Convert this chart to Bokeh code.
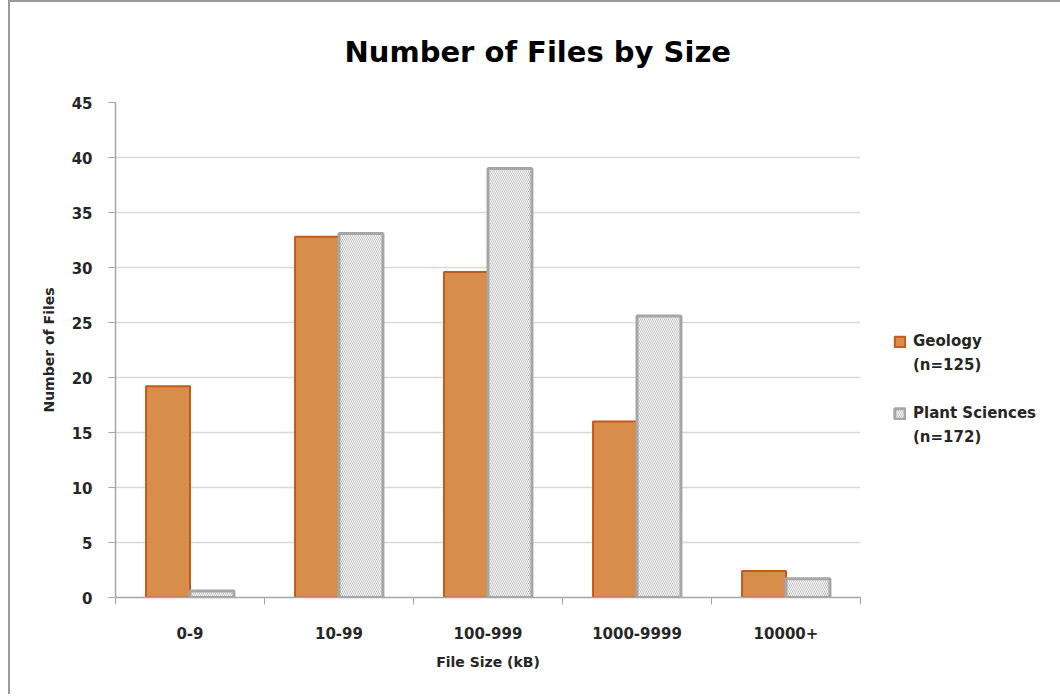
from bokeh.plotting import figure
from bokeh.models import (ColumnDataSource, Range1d, FixedTicker, SingleIntervalTicker,
                          Legend, LegendItem)
from bokeh.embed import file_html
from bokeh.resources import INLINE

categories = ["0-9", "10-99", "100-999", "1000-9999", "10000+"]
geology = [19.2, 32.8, 29.6, 16.0, 2.4]
plant = [0.6, 33.1, 39.0, 25.6, 1.7]
series_names = ["Geology", "Plant Sciences"]
series_counts = ["(n=125)", "(n=172)"]
title_text = "Number of Files by Size"
x_title = "File Size (kB)"
y_title = "Number of Files"
y_max = 45
y_step = 5

FONT = "DejaVu Sans"
BAR_W = 0.295

centers = [i + 0.5 for i in range(len(categories))]
src = ColumnDataSource(dict(
    cat=categories,
    xg=[c - BAR_W / 2 for c in centers],
    xp=[c + BAR_W / 2 for c in centers],
    geology=geology,
    plant=plant,
))

p = figure(width=1045, height=692, output_backend="svg", toolbar_location=None,
           x_range=Range1d(0, len(categories)), y_range=Range1d(0, y_max),
           frame_width=745, frame_height=495,
           min_border_left=105, min_border_top=100, min_border_right=195, min_border_bottom=97,
           title=title_text)
p.styles = {"border-left": "2px solid #9a9a9a", "border-top": "2px solid #9a9a9a",
            "margin-left": "8px", "margin-top": "0px"}
p.outline_line_color = None
p.background_fill_color = "white"
p.border_fill_color = "white"

p.title.text_font = FONT
p.title.text_font_size = "29px"
p.title.text_font_style = "bold"
p.title.text_color = "#000000"
p.title.align = "left"
p.title.offset = 229
p.title.vertical_align = "top"
p.title.text_line_height = 1.0
p.title.standoff = 63

rg = p.vbar(x="xg", top="geology", width=BAR_W, source=src,
            fill_color="#D98D4B", line_color="#C4591C", line_width=2)
rp = p.vbar(x="xp", top="plant", width=BAR_W, source=src,
            fill_color="#FAFAFA", line_color="#A6A6A6", line_width=3,
            hatch_pattern="\\", hatch_color="#C4C4C4", hatch_scale=4, hatch_weight=1)

# invisible renderer for the extra legend lines
blank = p.vbar(x=[], top=[], width=BAR_W, fill_alpha=0, line_alpha=0)

# axes
p.xaxis.ticker = FixedTicker(ticks=centers, minor_ticks=list(range(len(categories) + 1)))
p.xaxis.major_label_overrides = {c: lab for c, lab in zip(centers, categories)}
p.xaxis.major_tick_line_color = None
p.xaxis.minor_tick_line_color = "#A6A6A6"
p.xaxis.minor_tick_out = 7
p.xaxis.minor_tick_in = 0
p.xaxis.axis_line_color = "#A6A6A6"
p.xaxis.axis_line_width = 1.5
p.xaxis.major_label_standoff = 22
p.xaxis.axis_label = x_title
p.xaxis.axis_label_standoff = 12

p.yaxis.ticker = SingleIntervalTicker(interval=y_step)
p.yaxis.major_tick_line_color = "#A6A6A6"
p.yaxis.major_tick_out = 7
p.yaxis.major_tick_in = 0
p.yaxis.minor_tick_line_color = None
p.yaxis.axis_line_color = "#A6A6A6"
p.yaxis.axis_line_width = 1.5
p.yaxis.major_label_standoff = 16
p.yaxis.axis_label = y_title
p.yaxis.axis_label_standoff = 12

for ax in (p.xaxis, p.yaxis):
    ax.major_label_text_font = FONT
    ax.major_label_text_font_size = "15px"
    ax.major_label_text_font_style = "bold"
    ax.major_label_text_color = "#262626"
    ax.axis_label_text_font = FONT
    ax.axis_label_text_font_size = "14px"
    ax.axis_label_text_font_style = "bold"
    ax.axis_label_text_color = "#262626"

p.xgrid.grid_line_color = None
p.ygrid.grid_line_color = "#D9D9D9"
p.ygrid.grid_line_width = 1.5

legend = Legend(items=[LegendItem(label=series_names[0], renderers=[rg]),
                       LegendItem(label=series_counts[0], renderers=[blank]),
                       LegendItem(label=" ", renderers=[blank]),
                       LegendItem(label=series_names[1], renderers=[rp]),
                       LegendItem(label=series_counts[1], renderers=[blank])],
                location=(33, 151))
legend.border_line_color = None
legend.background_fill_alpha = 0
legend.padding = 0
legend.margin = 0
legend.spacing = 6
legend.label_height = 18
legend.glyph_width = 13
legend.glyph_height = 13
legend.label_text_font = FONT
legend.label_text_font_size = "15px"
legend.label_text_font_style = "bold"
legend.label_text_color = "#262626"
legend.label_standoff = 7
p.add_layout(legend, "right")

open("out.html", "w").write(file_html(p, INLINE))
